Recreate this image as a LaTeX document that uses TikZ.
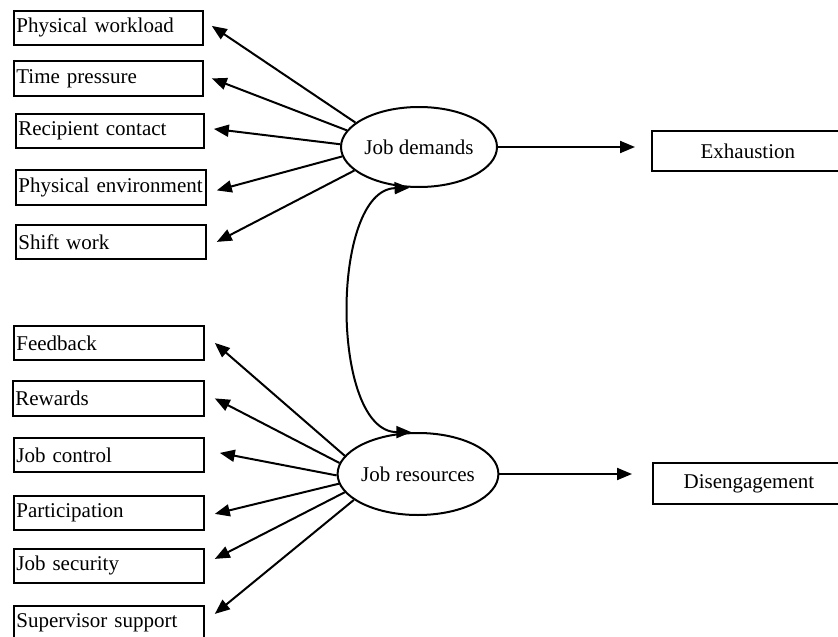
\documentclass[tikz,border=0pt]{standalone}
\usepackage{fontspec}
\setmainfont{Liberation Serif}
\usetikzlibrary{arrows.meta,shapes.geometric,calc}
\begin{document}
\begin{tikzpicture}[x=1pt,y=-1pt,
  every node/.style={font=\fontsize{21}{25}\selectfont},
  lbox/.style 2 args={draw, line width=1.8pt, rectangle, anchor=north west,
    inner xsep=2.5pt, inner ysep=0pt, align=left,
    text width=#1, minimum height=#2},
  rbox/.style={draw, line width=1.8pt, rectangle, anchor=north west,
    inner sep=0pt, align=center, text width=192pt},
  latent/.style={draw, ellipse, line width=2pt, inner sep=0pt},
  arr/.style={line width=2pt, -{Triangle[length=15pt,width=12pt]}},
  dbl/.style={line width=2pt, {Triangle[length=15pt,width=12pt]}-{Triangle[length=15pt,width=12pt]}}
]
\useasboundingbox (0,0) rectangle (838,637);
\clip (0,0) rectangle (838,637);

% latent variables
\node[latent, minimum width=156pt, minimum height=80pt] (jd) at (419,147) {Job demands};
\node[latent, minimum width=152pt, minimum height=82pt] (jr) at (418,474) {Job resources};

% outcomes
\node[rbox, minimum height=40pt] (ex) at (651,130) {Exhaustion};
\node[rbox, minimum height=41pt] (dis) at (652,462) {Disengagement};

% demand indicators
\node[lbox={184pt}{34pt}] (pw) at (13,10) {Physical workload};
\node[lbox={184pt}{35pt}] (tp) at (13,60) {Time pressure};
\node[lbox={183pt}{34pt}] (rc) at (15,113) {Recipient contact};
\node[lbox={185pt}{35pt}] (pe) at (15,169) {Physical environment};
\node[lbox={185pt}{34pt}] (sw) at (15,224) {Shift work};

% resource indicators
\node[lbox={185pt}{34pt}] (fb) at (13,325) {Feedback};
\node[lbox={186pt}{35pt}] (rw) at (12,380) {Rewards};
\node[lbox={185pt}{34pt}] (jc) at (13,437) {Job control};
\node[lbox={185pt}{34pt}] (pa) at (13,495) {Participation};
\node[lbox={185pt}{34pt}] (js) at (13,548) {Job security};
\node[lbox={185pt}{34pt}] (ss) at (13,605) {Supervisor support};

% arrows from job demands
\draw[arr] (jd.159) -- ([xshift=8pt,yshift=2pt]pw.east);
\draw[arr] (jd.167) -- ([xshift=8pt]tp.east);
\draw[arr] (jd.178.5) -- ([xshift=9pt,yshift=2pt]rc.east);
\draw[arr] (jd.187) -- ([xshift=10pt,yshift=-3pt]pe.east);
\draw[arr] (jd.200) -- ([xshift=10pt]sw.east);

% arrows from job resources
\draw[arr] (jr.166.5) -- ([xshift=10pt]fb.east);
\draw[arr] (jr.172) -- ([xshift=10pt]rw.east);
\draw[arr] (jr.181) -- ([xshift=15pt,yshift=2pt]jc.east);
\draw[arr] (jr.187) -- ([xshift=10pt,yshift=-1pt]pa.east);
\draw[arr] (jr.194.5) -- ([xshift=10pt,yshift=7pt]js.east);
\draw[arr] (jr.202) -- ([xshift=10pt,yshift=9pt]ss.east);

% outcome arrows
\draw[arr] (jd.east) -- ([xshift=-16pt]jd.east -| ex.west);
\draw[arr] (jr.east) -- ([xshift=-20pt]jr.east -| dis.west);

% correlation
\draw[dbl] (jd.257) .. controls (330,190) and (330,432) .. (jr.99);
\end{tikzpicture}
\end{document}
